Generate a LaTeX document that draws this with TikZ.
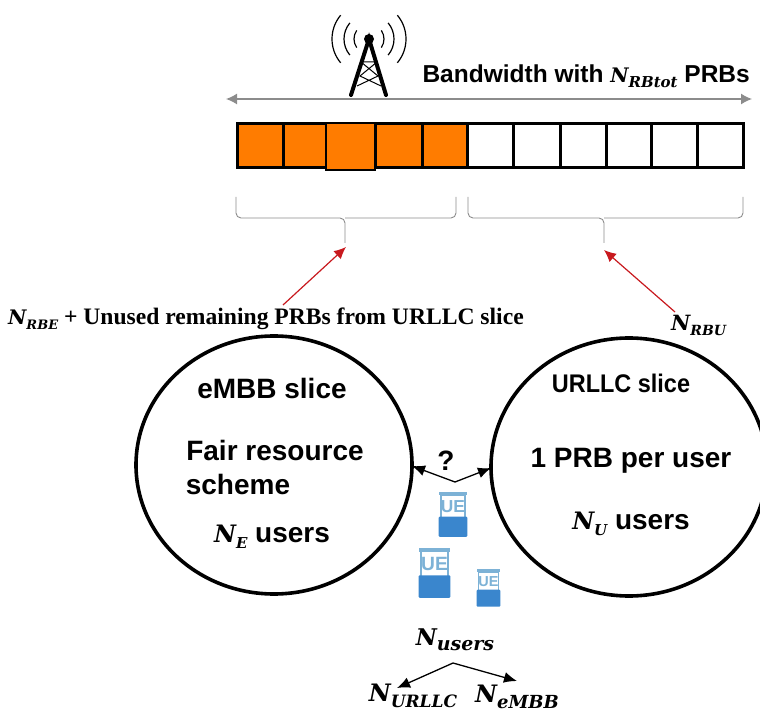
\documentclass[tikz,border=0pt]{standalone}
\usepackage{fontspec}
\setmainfont{Liberation Sans}
\newfontfamily\ser{Liberation Serif}
\newfontfamily\mat{DejaVu Serif}
\usetikzlibrary{arrows.meta,shapes.geometric}
\definecolor{prb}{RGB}{255,124,0}
\definecolor{uedark}{RGB}{58,134,205}
\definecolor{uelight}{RGB}{125,178,214}
\definecolor{redarr}{RGB}{200,25,30}
\newcommand{\NN}[3]{{\mat\bfseries\itshape\fontsize{#1}{#1}\selectfont N\raisebox{-0.25em}{\fontsize{#2}{#2}\selectfont #3}}}
\tikzset{
 lab/.style={font=\bfseries\fontsize{28}{32}\selectfont,inner sep=0pt,align=center},
 slice/.style={draw=black,line width=3.6pt,ellipse,minimum width=276pt,minimum height=258pt,inner sep=0pt},
 cell/.style={draw=black,line width=3pt,minimum width=46pt,minimum height=44pt,inner sep=0pt,anchor=north west},
 redline/.style={draw=redarr,line width=1.2pt,-{Latex[length=12pt,width=11pt]}},
 blk/.style={draw=black,line width=1.3pt,-{Latex[length=13pt,width=11pt]}},
 brace/.style={draw=black!45,line width=0.9pt,rounded corners=5pt},
 ue/.pic={
  \fill[white] (-14,-22) rectangle (14,22);
  \draw[uelight,line width=1.5pt] (-12,-19) rectangle (12,4);
  \fill[uelight] (-14,-22) rectangle (14,-19);
  \fill[uedark,rounded corners=1pt] (-14,2) rectangle (14,22);
  \node[transform shape,text=uelight,font=\bfseries\fontsize{17}{17}\selectfont,inner sep=0pt] at (0,-8) {UE};
 }
}
\begin{document}
\begin{tikzpicture}[x=1pt,y=-1pt]
\useasboundingbox (0,0) rectangle (760,711);
% tower
\coordinate (ttop) at (369,39);
\coordinate (tl) at (351,95);
\coordinate (tr) at (386,95);
\draw[line width=4pt,line cap=round] (tl) -- (ttop) -- (tr);
\fill (ttop) circle (5pt);
\draw[line width=1pt] (361,62) -- (378,76) -- (357,86) (377,62) -- (360,76) -- (381,86) (361,62) -- (377,62);
\foreach \r/\a in {15/35,25/40,37/40}{
 \draw[line width=1.2pt] (ttop) ++ ({180-\a}:\r) arc ({180-\a}:{180+\a}:\r);
 \draw[line width=1.2pt] (ttop) ++ ({-\a}:\r) arc ({-\a}:{\a}:\r);
}
% bandwidth
\coordinate (bwl) at (226,99);
\coordinate (bwr) at (752,99);
\draw[draw=black!45,line width=1.3pt,{Latex[length=11pt,width=11pt]}-{Latex[length=11pt,width=11pt]}] (bwl) -- (bwr);
\node[font=\bfseries\fontsize{24.5}{26}\selectfont,inner sep=0pt,anchor=base east] (bw) at (750,83) {Bandwidth with \NN{20}{15}{RBtot} PRBs};
% cells
\foreach \n/\x/\w/\c in {a/236/46/prb,b/282/44/prb,d/374/47/prb,e/421/45/prb,f/466/46/white,g/512/47/white,h/559/46/white,i/605/45/white,j/650/46/white,k/696/46/white}{
 \node[cell,fill=\c,minimum width=\w pt] (\n) at (\x,122) {};
}
\node[cell,fill=prb,minimum width=49pt,minimum height=47pt,line width=2.4pt] (c) at (325,122) {};
% braces
\draw[brace] (236,197) -- (236,218) -- (345,218) -- (345,243);
\draw[brace] (456,197) -- (456,218) -- (345,218);
\draw[brace] (468,197) -- (468,218) -- (604,218) -- (604,243);
\draw[brace] (743,197) -- (743,218) -- (604,218);
\coordinate (bl) at (346,247);
\coordinate (br) at (604,250);
% labels
\node[inner sep=0pt,anchor=base west,font=\bfseries\fontsize{23.6}{26}\selectfont\ser] (ul) at (8,324) {\NN{20}{13}{RBE} + Unused remaining PRBs from URLLC slice};
\node[inner sep=0pt,anchor=base west] (ur) at (671,330) {\NN{21}{14}{RBU}};
\coordinate (ulf) at (283,305);
\coordinate (urf) at (675,312);
\draw[redline] (ulf) -- (bl);
\draw[redline] (urf) -- (br);
% circles
\node[slice] (em) at (274,465) {};
\node[slice] (ur2) at (629,467) {};
\node[lab,anchor=base] (e1) at (272,398) {eMBB slice};
\node[lab,anchor=base] (e2) at (275,460) {Fair resource};
\node[lab,anchor=base] (e3) at (238,494) {scheme};
\node[lab,anchor=base] (e4) at (272,542) {\NN{24}{15}{E} users};
\node[lab,anchor=base,font=\bfseries\fontsize{25.5}{28}\selectfont,xscale=.92,transform shape] (u1) at (621,392) {URLLC slice};
\node[lab,anchor=base] (u2) at (631,467) {1 PRB per user};
\node[lab,anchor=base] (u3) at (631,529) {\NN{24}{15}{U} users};
% question
\node[lab,anchor=base] (q) at (446,470) {?};
\coordinate (fork) at (455,482);
\draw[blk] (fork) -- (412,466);
\draw[blk] (fork) -- (491,468);
% UEs
\pic[scale=1.02] at (453,514.5) {ue};
\pic[scale=1.13] at (434.5,573) {ue};
\pic[scale=.85] at (488.5,588) {ue};
% counts
\node[inner sep=0pt,anchor=base] (nu) at (455,645) {\NN{23}{19}{users}};
\node[inner sep=0pt,anchor=base] (n1) at (413,701) {\NN{24}{17}{URLLC}};
\node[inner sep=0pt,anchor=base] (n2) at (517,702) {\NN{24}{18}{eMBB}};
\coordinate (fork2) at (453,663);
\draw[blk] (fork2) -- (397,688);
\draw[blk] (fork2) -- (517,681);
\end{tikzpicture}
\end{document}
